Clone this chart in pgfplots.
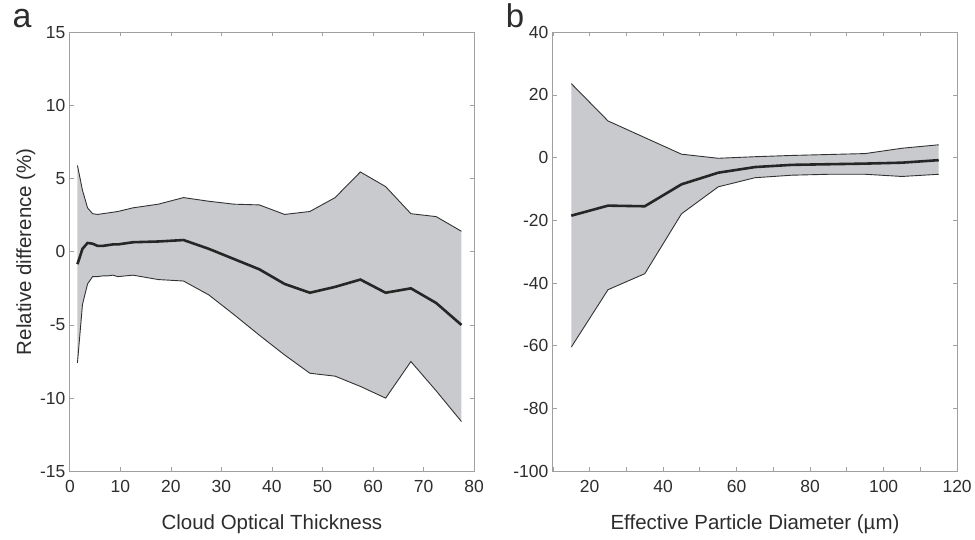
\documentclass[border=0pt]{standalone}
\usepackage{pgfplots}
\pgfplotsset{compat=1.18}
\usepackage{pgfplotstable}
\usepgfplotslibrary{fillbetween}
\usepackage{fontspec}
\setmainfont{Liberation Sans}
\definecolor{bandgray}{RGB}{201,202,205}
\definecolor{axgray}{RGB}{160,160,160}
\definecolor{txtgray}{RGB}{45,45,45}
\definecolor{edgegray}{RGB}{50,50,50}

\pgfplotstableread{
x upper mean lower
1.5 5.9 -0.85 -7.6
2.5 4.2 0.2 -3.6
3.5 3.0 0.6 -2.2
4.5 2.6 0.55 -1.7
5.5 2.55 0.4 -1.7
6.5 2.6 0.4 -1.65
7.5 2.65 0.45 -1.65
8.5 2.7 0.5 -1.6
9.5 2.75 0.5 -1.7
12.5 3.0 0.65 -1.6
17.5 3.25 0.7 -1.9
22.5 3.7 0.8 -2.0
27.5 3.45 0.2 -2.95
32.5 3.25 -0.5 -4.3
37.5 3.2 -1.2 -5.7
42.5 2.55 -2.2 -7.05
47.5 2.75 -2.8 -8.3
52.5 3.7 -2.4 -8.5
57.5 5.45 -1.9 -9.2
62.5 4.45 -2.8 -10.0
67.5 2.6 -2.5 -7.5
72.5 2.4 -3.5 -9.5
77.5 1.4 -5.0 -11.6
}\cotdata

\pgfplotstableread{
x upper mean lower
15 23.6 -18.5 -60.4
25 11.7 -15.3 -42.1
35 6.4 -15.5 -37.0
45 1.1 -8.5 -17.9
55 -0.2 -4.8 -9.3
65 0.3 -3.0 -6.4
75 0.7 -2.3 -5.6
85 1.0 -2.1 -5.3
95 1.3 -1.9 -5.3
105 3.0 -1.6 -6.0
115 4.1 -0.8 -5.3
}\efddata

\pgfplotsset{
  panel/.style={
    scale only axis,
    width=405pt, height=440pt,
    anchor=south west,
    axis line style={axgray, line width=0.9pt},
    tick style={axgray, line width=0.8pt},
    tick align=inside,
    major tick length=4pt,
    xtick pos=both, ytick pos=both,
    ticklabel style={font=\fontsize{17.5}{19}\selectfont, text=txtgray},
    label style={font=\fontsize{20.5}{23}\selectfont, text=txtgray},
    /pgf/number format/assume math mode=true,
    xticklabel style={yshift=-5pt},
    yticklabel style={xshift=-1pt},
    xlabel style={yshift=-16pt},
  },
  env/.style={edgegray, line width=0.9pt},
  avg/.style={black!85, line width=2.6pt},
}

\begin{document}
\begin{tikzpicture}
\path (0pt,0pt) rectangle (975pt,539pt);

\begin{axis}[panel, at={(70pt,68pt)},
  xmin=0, xmax=80, ymin=-15, ymax=15,
  xtick={0,10,...,80}, ytick={-15,-10,...,15},
  xlabel={Cloud Optical Thickness},
  ylabel={Relative difference (\%)},
  ylabel style={yshift=-2pt},
]
\addplot[env, name path=up] table[x=x, y=upper] {\cotdata};
\addplot[env, name path=lo] table[x=x, y=lower] {\cotdata};
\addplot[fill=bandgray, draw=none] fill between[of=up and lo];
\addplot[avg] table[x=x, y=mean] {\cotdata};
\end{axis}

\begin{axis}[panel, at={(554pt,68pt)},
  xmin=10, xmax=120, ymin=-100, ymax=40,
  xtick={20,40,...,120}, minor xtick={10,30,...,110},
  ytick={-100,-80,...,40},
  minor tick length=4pt,
  minor tick style={axgray, line width=0.8pt},
  xlabel={Effective Particle Diameter (\textmu m)},
]
\addplot[env, name path=up] table[x=x, y=upper] {\efddata};
\addplot[env, name path=lo] table[x=x, y=lower] {\efddata};
\addplot[fill=bandgray, draw=none] fill between[of=up and lo];
\addplot[avg] table[x=x, y=mean] {\efddata};
\end{axis}

\node[font=\fontsize{34}{36}\selectfont, text=txtgray, anchor=base] at (22pt,513pt) {a};
\node[font=\fontsize{33}{36}\selectfont, text=txtgray, anchor=base] at (516pt,513pt) {b};
\end{tikzpicture}
\end{document}
